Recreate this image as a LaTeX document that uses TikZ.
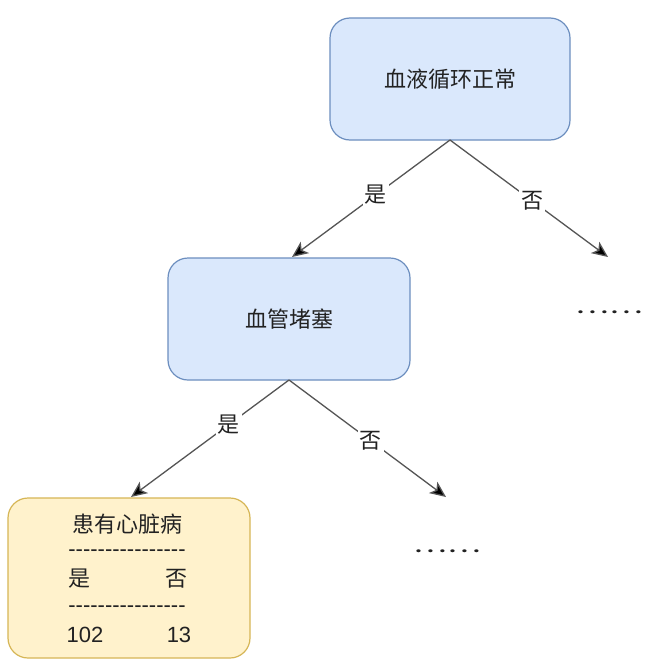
\documentclass[tikz,border=0pt]{standalone}
\usepackage{fontspec}
\setmainfont{Liberation Sans}
\newfontfamily\cjk{Noto Sans CJK SC}
\usetikzlibrary{arrows.meta}
\definecolor{bluefill}{HTML}{DAE8FC}
\definecolor{blueline}{HTML}{6C8EBF}
\definecolor{yelfill}{HTML}{FFF2CC}
\definecolor{yelline}{HTML}{D6B656}
\definecolor{edgecol}{HTML}{555555}
\definecolor{txt}{HTML}{222222}
\newcommand{\dashrow}{-{}-{}-{}-{}-{}-{}-{}-{}-{}-{}-{}-{}-{}-{}-{}-}
\tikzset{
  bluebox/.style={draw=blueline, fill=bluefill, rounded corners=20pt, line width=1.2pt},
  yelbox/.style={draw=yelline, fill=yelfill, rounded corners=20pt, line width=1.2pt},
  lbl/.style={font=\fontsize{22}{26}\selectfont\cjk, text=txt, inner sep=1pt},
  tx/.style={font=\fontsize{22}{26}\selectfont, text=txt, inner sep=0pt},
  edge/.style={draw=edgecol, line width=1.3pt, -{Stealth[length=16pt,width=14pt,inset=4pt,fill=black]}},
  elbl/.style={fill=white, font=\fontsize{22}{26}\selectfont\cjk, text=txt, inner sep=2pt},
}
\begin{document}
\begin{tikzpicture}[x=1pt,y=-1pt]
\useasboundingbox (0,0) rectangle (656,672);
\fill[white] (0,0) rectangle (656,672);
% boxes
\draw[bluebox] (330,18) rectangle (570,140);
\node[lbl] (n1) at (450,79) {血液循环正常};
\draw[bluebox] (168,258) rectangle (410,380);
\node[lbl] (n2) at (289,319) {血管堵塞};
\draw[yelbox] (8,498) rectangle (250,658);
\node[lbl] (t1) at (127,524) {患有心脏病};
\node[tx] (s1) at (127,553) {\dashrow};
\node[lbl] (y1) at (79,579) {是};
\node[lbl] (f1) at (176,579) {否};
\node[tx] (s2) at (127,609) {\dashrow};
\node[tx] (v1) at (85,635) {102};
\node[tx] (v2) at (179,635) {13};
% anchors
\coordinate (b1) at (450,140);
\coordinate (b2) at (289,380);
\coordinate (e1) at (292,257);
\coordinate (e2) at (608,257);
\coordinate (e3) at (131,497);
\coordinate (e4) at (446,497);
% edges
\draw[edge] (b1) -- node[elbl, pos=0.47] (l1) {是} (e1);
\draw[edge] (b1) -- node[elbl, pos=0.52] (l2) {否} (e2);
\draw[edge] (b2) -- node[elbl, pos=0.38] (l3) {是} (e3);
\draw[edge] (b2) -- node[elbl, pos=0.52] (l4) {否} (e4);
% dots
\node[lbl] (d1) at (609,312) {\scalebox{1.45}[1]{……}};
\node[lbl] (d2) at (447,551) {\scalebox{1.45}[1]{……}};
\end{tikzpicture}
\end{document}
